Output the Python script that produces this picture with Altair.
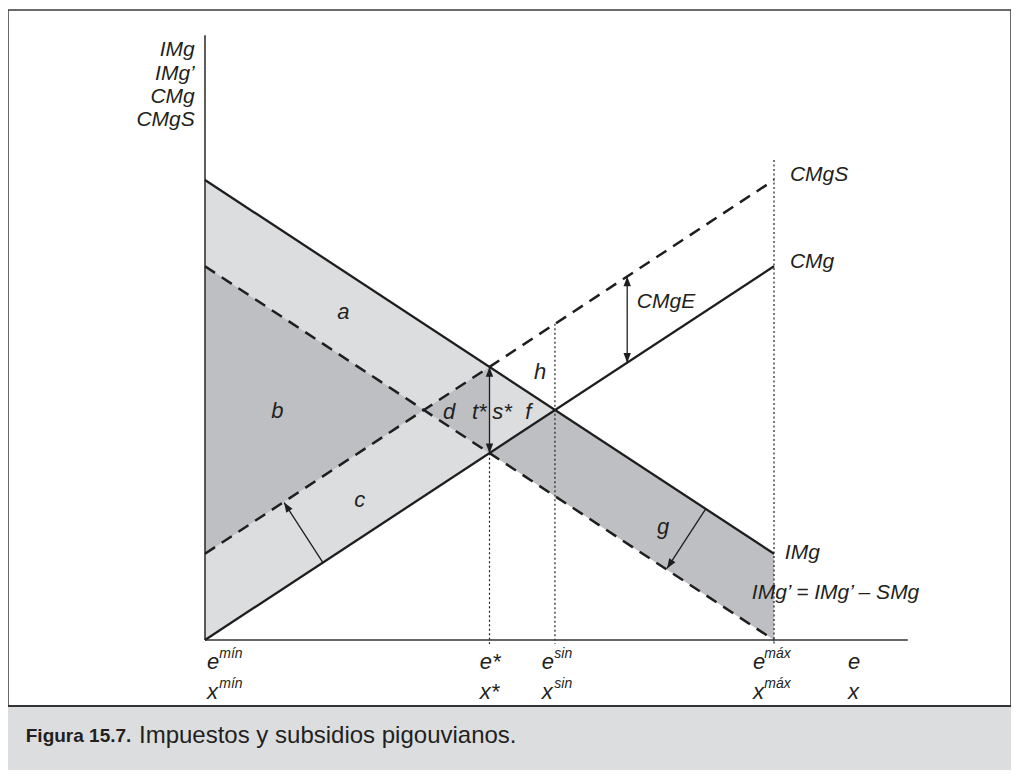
import altair as alt
import pandas as pd

# ---- curves (graph units: e on x, money on y) ----
curve_names = ["IMg", "IMg'", "CMg", "CMgS"]
curve_x0 = [0.0, 0.0, 0.0, 0.0]
curve_y0 = [8.0, 6.5, 0.0, 1.5]
curve_x1 = [10.0, 10.0, 10.0, 10.0]
curve_y1 = [1.5, 0.0, 6.5, 8.0]
curve_dashed = [False, True, False, True]

# ---- axes ----
axis_x0 = [0.0, 0.0]
axis_y0 = [0.0, 0.0]
axis_x1 = [0.0, 12.35]
axis_y1 = [10.52, 0.0]

# ---- dotted guides at e*, e_sin, e_max ----
guide_x = [5.0, 6.15, 10.0]
guide_ytop = [3.25, 5.5, 8.35]
guide_ybot = [-0.07, -0.07, -0.07]

# ---- shaded regions ----
light_region = ["abcf"] * 2
light_x = [0.0, 6.15]
light_top = [8.0, 4.0]
light_bot = [0.0, 4.0]

dark_region = ["b", "b", "d", "d", "g", "g", "g"]
dark_x = [0.0, 3.85, 3.85, 5.0, 5.0, 6.15, 10.0]
dark_top = [6.5, 4.0, 4.0, 4.75, 3.25, 4.0, 1.5]
dark_bot = [1.5, 4.0, 4.0, 3.25, 3.25, 2.5, 0.0]

# ---- arrows ----
shaft_x0 = [2.07, 8.80, 7.42, 5.0]
shaft_y0 = [1.35, 2.28, 4.82, 3.25]
shaft_x1 = [1.39, 8.12, 7.42, 5.0]
shaft_y1 = [2.39, 1.245, 6.32, 4.75]
head_x = [1.39, 8.12, 7.42, 7.42, 5.0, 5.0]
head_y = [2.39, 1.245, 6.32, 4.82, 4.75, 3.25]
head_angle = [327, 213, 0, 180, 0, 180]

# ---- annotation texts ----
region_text = ["a", "b", "c", "d", "t*", "s*", "f", "h", "g"]
region_x = [2.43, 1.27, 2.72, 4.29, 4.82, 5.22, 5.68, 5.89, 8.05]
region_y = [5.70, 3.98, 2.43, 3.97, 3.97, 3.97, 3.97, 4.66, 1.97]

curve_text = ["CMgE", "CMgS", "CMg", "IMg", "IMg’ = IMg’ – SMg"]
curve_tx = [7.59, 10.28, 10.28, 10.19, 9.61]
curve_ty = [5.88, 8.09, 6.57, 1.51, 0.82]

ylab_text = ["IMg", "IMg’", "CMg", "CMgS"]
ylab_x = [-0.18, -0.18, -0.18, -0.18]
ylab_y = [10.26, 9.84, 9.44, 9.04]

xlab_text = ["e", "e*", "e", "e", "e", "x", "x*", "x", "x", "x"]
xlab_x = [0.035, 4.83, 5.92, 9.63, 11.30, 0.035, 4.83, 5.92, 9.63, 11.30]
xlab_y = [-0.38] * 5 + [-0.90] * 5

sup_text = ["mín", "sin", "máx", "mín", "sin", "máx"]
sup_x = [0.25, 6.14, 9.83, 0.25, 6.14, 9.83]
sup_y = [-0.24] * 3 + [-0.76] * 3

cap_bold = "Figura 15.7."
cap_text = "Impuestos y subsidios pigouvianos."
cap_x = [-3.15, -1.16]
cap_y = [-1.67, -1.67]

# ---------------------------------------------------------------
xs = alt.Scale(domain=[-3.462, 14.165], nice=False, zero=False)
ys = alt.Scale(domain=[-2.261, 10.957], nice=False, zero=False)


def X(f):
    return alt.X(f, type="quantitative", scale=xs, axis=None)


def Y(f):
    return alt.Y(f, type="quantitative", scale=ys, axis=None)


INK = "#1e1e1e"
FONT = "Liberation Sans"

curves = pd.DataFrame(dict(name=curve_names, x0=curve_x0, y0=curve_y0,
                           x1=curve_x1, y1=curve_y1, dashed=curve_dashed))
axes_df = pd.DataFrame(dict(x0=axis_x0, y0=axis_y0, x1=axis_x1, y1=axis_y1))
guides = pd.DataFrame(dict(x=guide_x, yt=guide_ytop, yb=guide_ybot))
light = pd.DataFrame(dict(r=light_region, x=light_x, t=light_top, b=light_bot))
dark = pd.DataFrame(dict(r=dark_region, x=dark_x, t=dark_top, b=dark_bot))
shafts = pd.DataFrame(dict(x0=shaft_x0, y0=shaft_y0, x1=shaft_x1, y1=shaft_y1))
heads = pd.DataFrame(dict(x=head_x, y=head_y, a=head_angle))
regions = pd.DataFrame(dict(t=region_text, x=region_x, y=region_y))
clabels = pd.DataFrame(dict(t=curve_text, x=curve_tx, y=curve_ty))
ylabs = pd.DataFrame(dict(t=ylab_text, x=ylab_x, y=ylab_y))
xlabs = pd.DataFrame(dict(t=xlab_text, x=xlab_x, y=xlab_y))
sups = pd.DataFrame(dict(t=sup_text, x=sup_x, y=sup_y))
capb = pd.DataFrame(dict(t=[cap_bold], x=cap_x[:1], y=cap_y[:1]))
capn = pd.DataFrame(dict(t=[cap_text], x=cap_x[1:], y=cap_y[1:]))

band = alt.Chart(pd.DataFrame({"k": [0]})).mark_rect(
    color="#dcdddf").encode(
    x=alt.value(0), x2=alt.value(1003), y=alt.value(696), y2=alt.value(760))
band_line = alt.Chart(pd.DataFrame({"k": [0]})).mark_rule(
    color="#333333", strokeWidth=2).encode(
    x=alt.value(0), x2=alt.value(1003), y=alt.value(696))

light_area = alt.Chart(light).mark_area(color="#dcdddf", opacity=1).encode(
    x=X("x"), y=Y("t").stack(None), y2="b", detail="r:N")
dark_area = alt.Chart(dark).mark_area(color="#bebfc2", opacity=1).encode(
    x=X("x"), y=Y("t").stack(None), y2="b", detail="r:N")

guide_rules = alt.Chart(guides).mark_rule(
    color=INK, strokeWidth=1.2, strokeDash=[2, 2.5]).encode(
    x=X("x"), y=Y("yt"), y2="yb")

axis_rules = alt.Chart(axes_df).mark_rule(color="#333333", strokeWidth=1.6).encode(
    x=X("x0"), y=Y("y0"), x2="x1", y2="y1")

solid = alt.Chart(curves[~curves.dashed]).mark_rule(
    color=INK, strokeWidth=2.3, strokeCap="butt").encode(
    x=X("x0"), y=Y("y0"), x2="x1", y2="y1")
dashed = alt.Chart(curves[curves.dashed]).mark_rule(
    color=INK, strokeWidth=2.5, strokeDash=[12, 8], strokeCap="butt").encode(
    x=X("x0"), y=Y("y0"), x2="x1", y2="y1")

shaft_rules = alt.Chart(shafts).mark_rule(color=INK, strokeWidth=1.3).encode(
    x=X("x0"), y=Y("y0"), x2="x1", y2="y1")
head_pts = alt.Chart(heads).mark_point(
    shape="M0,0L0.38,1L-0.38,1Z", filled=True, color=INK, opacity=1,
    size=380, strokeWidth=0).encode(
    x=X("x"), y=Y("y"), angle=alt.Angle("a:Q", scale=None))


def txt(df, align, size, style="italic", weight="normal", font=FONT):
    return alt.Chart(df).mark_text(
        align=align, baseline="middle", font=font, fontSize=size,
        fontStyle=style, fontWeight=weight, color="#231f20").encode(
        x=X("x"), y=Y("y"), text="t:N")


layers = [
    band, band_line, light_area, dark_area, guide_rules, axis_rules,
    solid, dashed, shaft_rules, head_pts,
    txt(regions, "center", 22),
    txt(clabels, "left", 21),
    txt(ylabs, "right", 21),
    txt(xlabs, "left", 22),
    txt(sups, "left", 14),
    txt(capb, "left", 19, style="normal", weight="bold"),
    txt(capn, "left", 24, style="normal"),
]

chart = alt.layer(*layers).properties(
    width=1003, height=760,
    padding={"left": 0, "top": 2, "right": 0, "bottom": 0},
    autosize=alt.AutoSizeParams(type="none"),
    background="white",
).configure_view(stroke="#3a3a3a", strokeWidth=1.5)

chart.save("out.html", embed_options={"renderer": "svg", "actions": False})
